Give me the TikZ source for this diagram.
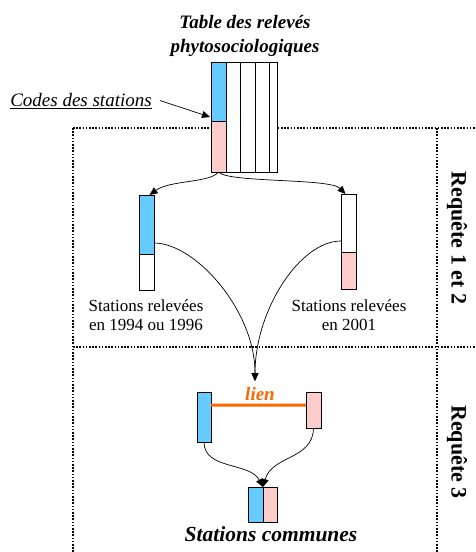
\documentclass[tikz,border=0pt]{standalone}
\usepackage{fontspec}
\setmainfont{LiberationSerif}[Extension=.ttf, UprightFont=*-Regular, BoldFont=*-Bold, ItalicFont=*-Italic, BoldItalicFont=*-BoldItalic]
\usetikzlibrary{arrows.meta,calc}
\definecolor{cellblue}{HTML}{66CCFF}
\definecolor{cellpink}{HTML}{FFCCCC}
\definecolor{lienorange}{HTML}{FF6600}
\begin{document}
\begin{tikzpicture}[x=1bp,y=-1bp,
  cell/.style={draw, line width=0.8bp, inner sep=0pt, outer sep=0pt, minimum width=15bp},
  frame/.style={line width=1.6bp, dash pattern=on 1.6bp off 1.6bp},
  link/.style={line width=0.7bp, -{Triangle[length=8bp,width=7bp]}},
  titlefont/.style={font=\fontsize{19bp}{24bp}\selectfont\bfseries\itshape},
  labelfont/.style={font=\fontsize{17bp}{19bp}\selectfont},
  reqfont/.style={font=\fontsize{22bp}{22bp}\selectfont\bfseries},
]
\useasboundingbox (0,0) rectangle (476,552);

% dotted frame of the two query zones
\draw[frame] (73,128) -- (476,128);
\draw[frame] (73,347) -- (476,347);
\draw[frame] (73,128) -- (73,552);
\draw[frame] (437,128) -- (437,552);

% table of records
\node[titlefont, align=center] (title) at (245,36) {Table des relevés\\phytosociologiques};
\node[cell, fill=white, minimum width=66bp, minimum height=110bp] (table) at (244,117) {};
\node[cell, fill=cellblue, minimum height=59bp] (tblue) at (218.5,91.5) {};
\node[cell, fill=cellpink, minimum height=51bp] (tpink) at (218.5,146.5) {};
\foreach \x in {240,255,269} \draw[line width=0.8bp] (\x,62) -- (\x,172);

\node[font=\fontsize{19bp}{23bp}\selectfont\itshape, anchor=base, inner sep=3bp] (codes) at (81,107) {\underline{Codes des stations}};
\draw[link] ([xshift=5bp,yshift=1bp]codes.east) -- ($(tblue.south west)+(-1,-4)$);

% queries 1 and 2
\node[cell, fill=cellblue, minimum height=59bp] (lblue) at (146.5,224.5) {};
\node[cell, fill=white, minimum height=36bp] (lwhite) at (146.5,272) {};
\node[cell, fill=white, minimum height=58bp] (rwhite) at (348.5,223) {};
\node[cell, fill=cellpink, minimum height=37bp] (rpink) at (348.5,270.5) {};

\draw[link] (tpink.south) .. controls (210,183) and (170,180) .. ([xshift=3bp]lblue.north);
\draw[link] (tpink.south) .. controls (228,183) and (330,178) .. ([xshift=-3bp]rwhite.north);

\node[labelfont, align=center] (lab1) at (146,315) {Stations relevées\\en 1994 ou 1996};
\node[labelfont, align=center] (lab2) at (349,315) {Stations relevées\\en 2001};

\coordinate (join) at (255,381);
\draw[link] ($(lblue.south east)+(0,-11)$) .. controls (195,243) and (255,310) .. (join);
\draw[link] ($(rwhite.south west)+(0,-11)$) .. controls (300,241) and (255,310) .. (join);

% query 3
\node[cell, fill=cellblue, minimum width=14bp, minimum height=50bp] (bblue) at (204,417) {};
\node[cell, fill=cellpink, minimum height=36bp] (bpink) at (313.5,410) {};
\draw[line width=3bp, lienorange] ($(bblue.north east)+(0,13)$) -- ($(bpink.north west)+(0,13)$);
\node[titlefont, text=lienorange] (lien) at (260,394) {lien};

\node[cell, fill=cellblue, minimum height=35bp] (cblue) at (255.5,504.5) {};
\node[cell, fill=cellpink, minimum width=14bp, minimum height=35bp] (cpink) at (270,504.5) {};
\draw[link] (bblue.south) .. controls (204,470) and (250,462) .. (cblue.north east);
\draw[link] (bpink.south) .. controls (313,460) and (272,455) .. (cblue.north east);

\node[font=\fontsize{21.5bp}{22bp}\selectfont\bfseries\itshape] (common) at (271,534) {Stations communes};

% zone captions
\node[reqfont, rotate=-90] (req1) at (457,238) {Requête 1 et 2};
\node[reqfont, rotate=-90] (req3) at (457,452) {Requête 3};
\end{tikzpicture}
\end{document}
